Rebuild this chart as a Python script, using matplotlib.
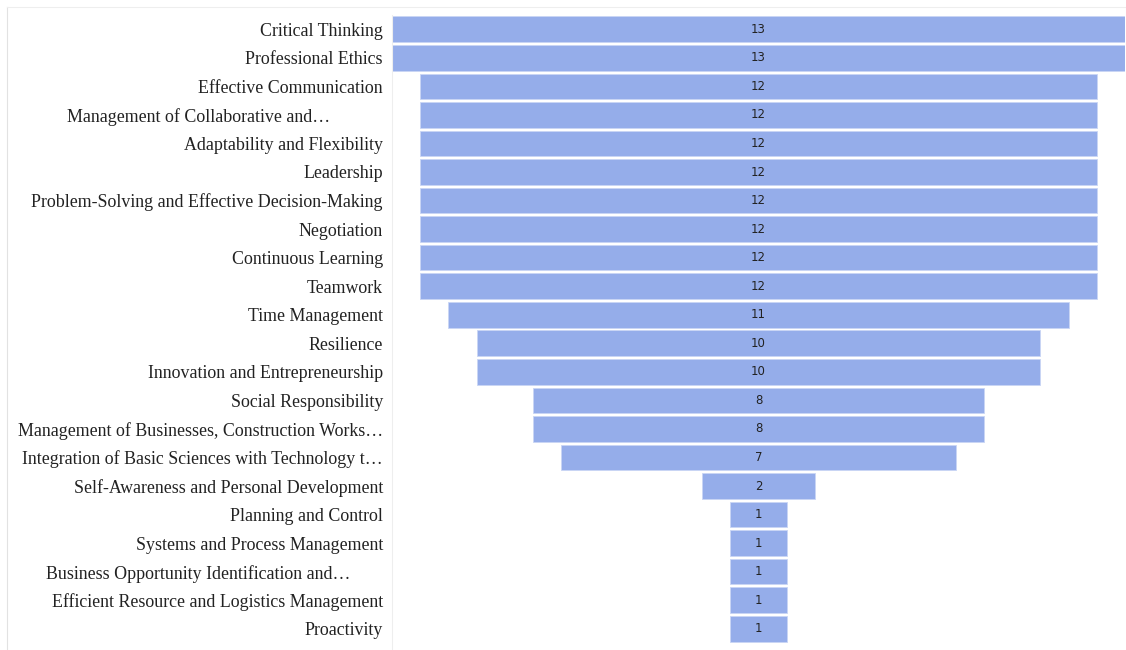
import matplotlib.pyplot as plt
from matplotlib.lines import Line2D
from matplotlib.transforms import ScaledTranslation

skills = [
    "Critical Thinking",
    "Professional Ethics",
    "Effective Communication",
    "Management of Collaborative and\u2026",
    "Adaptability and Flexibility",
    "Leadership",
    "Problem-Solving and Effective Decision-Making",
    "Negotiation",
    "Continuous Learning",
    "Teamwork",
    "Time Management",
    "Resilience",
    "Innovation and Entrepreneurship",
    "Social Responsibility",
    "Management of Businesses, Construction Works\u2026",
    "Integration of Basic Sciences with Technology t\u2026",
    "Self-Awareness and Personal Development",
    "Planning and Control",
    "Systems and Process Management",
    "Business Opportunity Identification and\u2026",
    "Efficient Resource and Logistics Management",
    "Proactivity",
]
counts = [13, 13, 12, 12, 12, 12, 12, 12, 12, 12, 11, 10, 10, 8, 8, 7, 2, 1, 1, 1, 1, 1]

W, H = 1126, 650
fig = plt.figure(figsize=(W / 100, H / 100), dpi=100)

# axes placed in pixel terms: bars span x 392..1125, rows y 15..643
ax = fig.add_axes([392 / W, (H - 643) / H, (1125 - 392) / W, (643 - 15) / H])

ypos = list(range(len(skills)))
lefts = [-c / 2 for c in counts]
ax.barh(ypos, counts, left=lefts, height=0.9, color="#95ADEA",
        edgecolor="#C9D5F4", linewidth=0.6)

for y, c in zip(ypos, counts):
    ax.text(0, y, str(c), ha="center", va="center", fontsize=8.5,
            color="#222222", family="DejaVu Sans")

ax.set_xlim(-6.5, 6.5)
ax.set_ylim(len(skills) - 0.5, -0.5)
ax.set_yticks(ypos)
ax.set_yticklabels(skills, family="Liberation Serif", fontsize=12.9, color="#222222")
ax.tick_params(axis="y", length=0, pad=6.5)
ax.set_xticks([])
for side in ["top", "right", "bottom"]:
    ax.spines[side].set_visible(False)
ax.spines["left"].set_color("#EEEEEE")
ax.spines["left"].set_linewidth(0.8)
ax.spines["left"].set_bounds(len(skills) - 0.3, -0.5)

# truncated labels sit a little left of the others (wrapped-label look)
shift_px = {3: 53, 19: 33}
for i, lab in enumerate(ax.get_yticklabels()):
    if i in shift_px:
        lab.set_transform(lab.get_transform()
                          + ScaledTranslation(-shift_px[i] / 100, 0, fig.dpi_scale_trans))

# light frame of the chart area
fig.add_artist(Line2D([7 / W, 7 / W], [0, 1 - 7 / H], transform=fig.transFigure,
                      color="#E2E2E2", linewidth=0.8))
fig.add_artist(Line2D([7 / W, 1], [1 - 7 / H, 1 - 7 / H], transform=fig.transFigure,
                      color="#EEEEEE", linewidth=0.8))

fig.savefig("out.png", dpi=100, facecolor="white")
